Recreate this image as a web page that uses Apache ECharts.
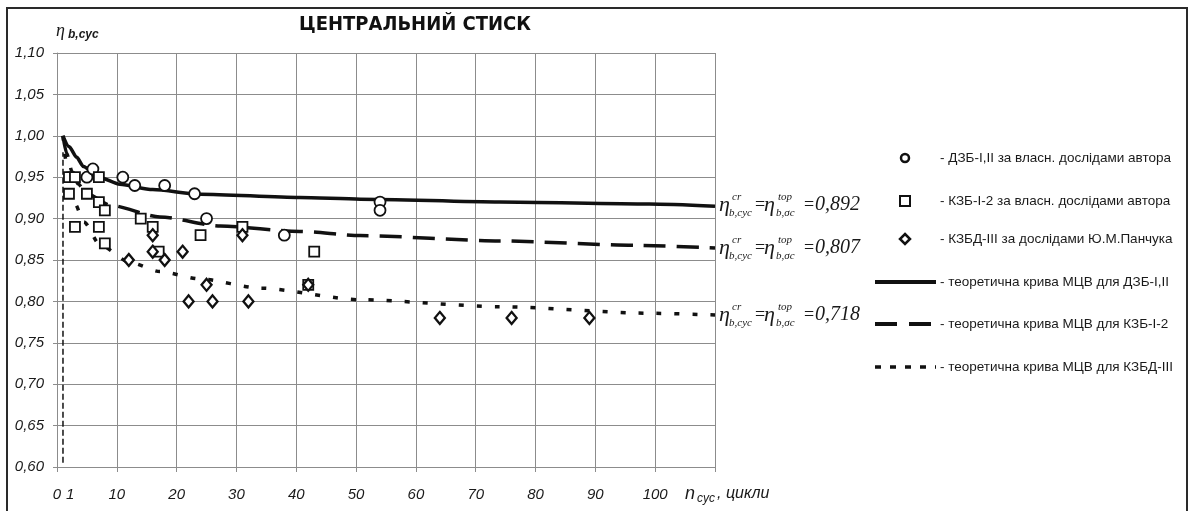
<!DOCTYPE html>
<html><head><meta charset="utf-8">
<script src="https://cdn.jsdelivr.net/npm/echarts@6/dist/echarts.min.js"></script>
<style>html,body{margin:0;padding:0;background:#fff}#c{width:1189px;height:511px}</style>
</head><body><div id="c"></div>
<script>
// ---- data ----
const yTickLabels = ['0,60','0,65','0,70','0,75','0,80','0,85','0,90','0,95','1,00','1,05','1,10'];
const xTickLabels = ['0','10','20','30','40','50','60','70','80','90','100'];
const pointsDZB = [[5,0.95],[6,0.96],[11,0.95],[13,0.94],[18,0.94],[23,0.93],[25,0.90],[38,0.88],[54,0.92],[54,0.91]];
const pointsKZB = [[2,0.95],[3,0.95],[7,0.95],[2,0.93],[3,0.89],[5,0.93],[7,0.92],[7,0.89],[8,0.91],[8,0.87],[14,0.90],[16,0.89],[17,0.86],[24,0.88],[31,0.89],[42,0.82],[43,0.86]];
const pointsKZBD = [[12,0.85],[16,0.88],[16,0.86],[18,0.85],[21,0.86],[22,0.80],[25,0.82],[26,0.80],[31,0.88],[32,0.80],[42,0.82],[64,0.78],[76,0.78],[89,0.78]];
const curveDZB = [[1,1.0],[2,0.987],[3.3,0.974],[4.4,0.963],[7,0.95],[10.5,0.9415],[16,0.935],[24,0.9295],[40.6,0.9255],[50.7,0.9235],[74,0.920],[99,0.9176],[110,0.915]];
const curveKZB = [[1,1.0],[1.6,0.979],[2.5,0.957],[3.5,0.942],[5,0.93],[8.9,0.916],[17.2,0.902],[27.3,0.891],[40.6,0.8845],[50.7,0.8795],[74,0.873],[97,0.8677],[110,0.8645]];
const curveKZBD = [[1,1.0],[1.5,0.97],[2,0.948],[3,0.918],[4.5,0.896],[7.2,0.868],[12.2,0.847],[17.2,0.836],[24,0.827],[34,0.816],[50.7,0.802],[74,0.7936],[99,0.7857],[110,0.7836]];
const verticalN1 = [[1,0.605],[1,0.98]];
const asymptotes = ['0,892','0,807','0,718'];
const legendTexts = [
  '- ДЗБ-I,II за власн. дослідами автора',
  '- КЗБ-I-2 за власн. дослідами автора',
  '- КЗБД-III за дослідами Ю.М.Панчука',
  '- теоретична крива МЦВ для ДЗБ-I,II',
  '- теоретична крива МЦВ для КЗБ-I-2',
  '- теоретична крива МЦВ для КЗБД-III'
];
const titleText = 'ЦЕНТРАЛЬНИЙ СТИСК';

// ---- chart ----
const chart = echarts.init(document.getElementById('c'), null, {renderer:'canvas'});
const gridColor = '#8c8c8c';
const txt = '#1a1a1a';
const sans = '"Liberation Sans", Arial, sans-serif';
const serif = '"Liberation Serif", "Times New Roman", serif';

function markerSeries(data, symbol, size, bw){
  return {type:'scatter', data, symbol, symbolSize:size, z:5,
    itemStyle:{color:'#fff', borderColor:'#111', borderWidth:bw, opacity:1}, emphasis:{disabled:true}};
}
function curveSeries(data, type, width){
  return {type:'line', data, smooth:0.25, smoothMonotone:'x', showSymbol:false, symbol:'none', z:3,
    lineStyle:{color:'#111', width, type, cap:'butt'}, emphasis:{disabled:true}};
}

function anno(y, val){
  const it = 'italic 22px ' + serif, sm = 'italic 11px ' + serif;
  const mk = (x, yy, t, f) => ({type:'text', x, y:yy, style:{text:t, font:f, fill:txt, verticalAlign:'middle', align:'left'}});
  return [
    mk(719, y, 'η', it), mk(732, y-8, 'cr', sm), mk(729, y+8, 'b,cyc', sm),
    mk(755, y, '=', '18px ' + serif),
    mk(764, y, 'η', it), mk(778, y-8, 'top', sm), mk(776, y+8, 'b,σc', sm),
    mk(804, y, '=', '18px ' + serif),
    mk(815, y, val, 'italic 20px ' + serif)
  ];
}

const legendGraphics = [];
const ly = [158, 201, 239, 282, 324, 367];
legendTexts.forEach((t,i)=>{
  legendGraphics.push({type:'text', x:940, y:ly[i], style:{text:t, font:'13.5px ' + sans, fill:txt, verticalAlign:'middle'}});
});
legendGraphics.push({type:'circle', shape:{cx:905, cy:ly[0], r:4}, style:{fill:'#fff', stroke:'#111', lineWidth:2.5}});
legendGraphics.push({type:'rect', shape:{x:900, y:ly[1]-5, width:10, height:10}, style:{fill:'#fff', stroke:'#111', lineWidth:2}});
legendGraphics.push({type:'polygon', shape:{points:[[905,ly[2]-5],[910,ly[2]],[905,ly[2]+5],[900,ly[2]]]}, style:{fill:'#fff', stroke:'#111', lineWidth:2.5}});
legendGraphics.push({type:'line', shape:{x1:875, y1:ly[3], x2:936, y2:ly[3]}, style:{stroke:'#111', lineWidth:4}});
legendGraphics.push({type:'line', shape:{x1:875, y1:ly[4], x2:931, y2:ly[4]}, style:{stroke:'#111', lineWidth:4, lineDash:[22,12]}});
legendGraphics.push({type:'line', shape:{x1:875, y1:ly[5], x2:936, y2:ly[5]}, style:{stroke:'#111', lineWidth:3.5, lineDash:[6,9]}});

const option = {
  backgroundColor:'#fff',
  animation:false,
  grid:{left:57, right:474, top:53, bottom:44},
  xAxis:{type:'value', min:0, max:110, interval:10,
    axisLine:{show:true, lineStyle:{color:gridColor, width:1}},
    axisTick:{show:true, length:5, lineStyle:{color:gridColor}},
    splitLine:{show:true, lineStyle:{color:gridColor, width:1}},
    axisLabel:{margin:20, color:txt, fontSize:15, fontStyle:'italic', fontFamily:sans,
      formatter:(v)=>{const i=Math.round(v/10); return i<xTickLabels.length?xTickLabels[i]:'';}}
  },
  yAxis:{type:'value', min:0.6, max:1.1, interval:0.05,
    axisLine:{show:true, lineStyle:{color:gridColor, width:1}},
    axisTick:{show:true, length:4, lineStyle:{color:gridColor}},
    splitLine:{show:true, lineStyle:{color:gridColor, width:1}},
    axisLabel:{margin:13, color:txt, fontSize:15, fontStyle:'italic', fontFamily:sans,
      formatter:(v)=>yTickLabels[Math.round((v-0.6)/0.05)]}
  },
  series:[
    {type:'line', data:verticalN1, showSymbol:false, symbol:'none', z:2,
      lineStyle:{color:'#111', width:1.5, type:[6,3]}, emphasis:{disabled:true}},
    curveSeries(curveDZB, 'solid', 3.5),
    curveSeries(curveKZB, [22,11], 3.5),
    curveSeries(curveKZBD, [5,13], 3.5),
    markerSeries(pointsDZB, 'circle', 11, 1.8),
    markerSeries(pointsKZB, 'rect', 10, 1.8),
    markerSeries(pointsKZBD, 'diamond', [10,12], 2.3)
  ],
  graphic:[
    {type:'rect', shape:{x:7, y:8, width:1180, height:520}, style:{fill:'none', stroke:'#2a2a2a', lineWidth:2}, z:100},
    {type:'text', x:415, y:25, style:{text:titleText, font:'bold 20px "Liberation Sans Narrow", "DejaVu Sans Condensed", sans-serif', fill:'#111', align:'center', verticalAlign:'middle'}},
    {type:'text', x:56, y:31, style:{text:'η', font:'italic 18px ' + serif, fill:txt, verticalAlign:'middle'}},
    {type:'text', x:68, y:35, style:{text:'b,cyc', font:'italic bold 12px ' + sans, fill:txt, verticalAlign:'middle'}},
    {type:'text', x:66, y:495, style:{text:'1', font:'italic 15px ' + sans, fill:txt, verticalAlign:'middle'}},
    {type:'text', x:685, y:494, style:{text:'n', font:'italic 18px ' + sans, fill:txt, verticalAlign:'middle'}},
    {type:'text', x:697, y:499, style:{text:'cyc', font:'italic 12px ' + sans, fill:txt, verticalAlign:'middle'}},
    {type:'text', x:717, y:494, style:{text:', цикли', font:'italic 16px ' + sans, fill:txt, verticalAlign:'middle'}},
    ...anno(205, asymptotes[0]),
    ...anno(248, asymptotes[1]),
    ...anno(315, asymptotes[2]),
    ...legendGraphics
  ]
};
chart.setOption(option);
</script>
</body></html>
